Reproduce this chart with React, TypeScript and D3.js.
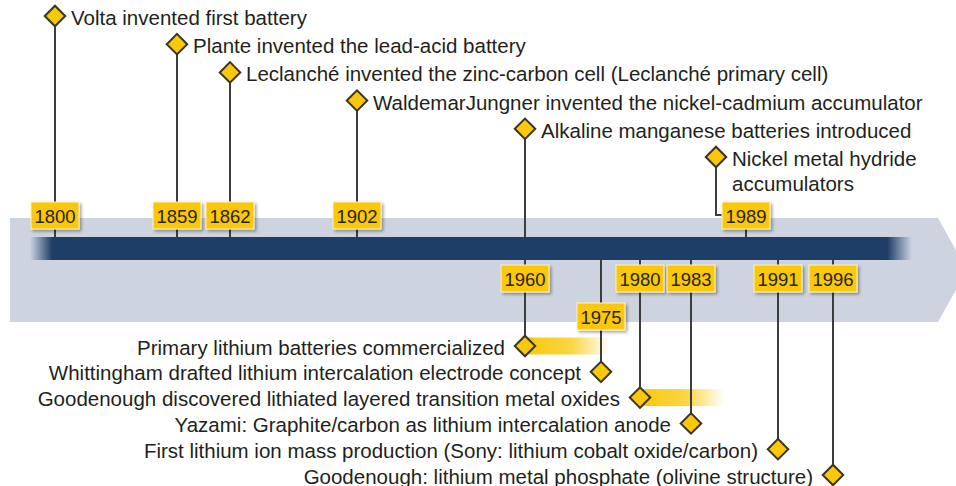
import * as d3 from 'd3';
import { useEffect, useRef } from 'react';

// timeline years (every tick on the bar)
const years = [1800, 1859, 1862, 1902, 1960, 1975, 1980, 1983, 1989, 1991, 1996];

// events above the bar, top row first
const topYears = [1800, 1859, 1862, 1902, 1960, 1989];
const topLabels = [
  ['Volta invented first battery'],
  ['Plante invented the lead-acid battery'],
  ['Leclanché invented the zinc-carbon cell (Leclanché primary cell)'],
  ['WaldemarJungner invented the nickel-cadmium accumulator'],
  ['Alkaline manganese batteries introduced'],
  ['Nickel metal hydride', 'accumulators'],
];

// events below the bar, top row first
const bottomYears = [1960, 1975, 1980, 1983, 1991, 1996];
const bottomLabels = [
  'Primary lithium batteries commercialized',
  'Whittingham drafted lithium intercalation electrode concept',
  'Goodenough discovered lithiated layered transition metal oxides',
  'Yazami: Graphite/carbon as lithium intercalation anode',
  'First lithium ion mass production (Sony: lithium cobalt oxide/carbon)',
  'Goodenough: lithium metal phosphate (olivine structure)',
];

// which year boxes sit above / below the bar
const topBoxYears = [1800, 1859, 1862, 1902, 1989];
const bottomBoxYears = [1960, 1975, 1980, 1983, 1991, 1996];
const loweredBoxYears = [1975];
const highlightedYears = [1960, 1980];
const elbowYear = 1989;

// layout: the timeline is not to scale, so the scale is piecewise
const anchorX = [55, 177, 230, 357, 525, 601, 640, 691, 746, 778, 833];
const FONT = '"Liberation Sans", Arial, sans-serif';
const YELLOW = '#F9C80A';
const LINE = '#3d3d3d';

export default function App() {
  const svgRef = useRef<SVGSVGElement>(null);

  useEffect(() => {
    document.body.style.margin = '0';
    const svg = d3.select(svgRef.current);
    svg.selectAll('*').remove();

    const x = d3.scaleLinear().domain(years).range(anchorX);
    const topRow = d3.scaleLinear().domain([0, 5]).range([16, 157]);
    const botRow = d3.scaleLinear().domain([0, 5]).range([346, 475]);

    const bandTop = 218, bandBottom = 322, barTop = 237, barBottom = 260;
    const boxW = 48, boxH = 27, boxTopY = 202, boxBotY = 265, boxLowY = 303;

    const defs = svg.append('defs');
    const barGrad = defs.append('linearGradient').attr('id', 'barGrad')
      .attr('gradientUnits', 'userSpaceOnUse').attr('x1', 30).attr('x2', 912);
    [[0, 0], [0.025, 1], [0.972, 1], [1, 0]].forEach(([o, a]) =>
      barGrad.append('stop').attr('offset', o).attr('stop-color', '#1F3E67').attr('stop-opacity', a));

    const hlGrad = defs.append('linearGradient').attr('id', 'hlGrad');
    [[0, 1], [0.55, 0.75], [1, 0]].forEach(([o, a]) =>
      hlGrad.append('stop').attr('offset', o).attr('stop-color', YELLOW).attr('stop-opacity', a));

    const shadow = defs.append('filter').attr('id', 'shadow')
      .attr('x', '-20%').attr('y', '-20%').attr('width', '150%').attr('height', '160%');
    shadow.append('feDropShadow').attr('dx', 2).attr('dy', 2).attr('stdDeviation', 1.5)
      .attr('flood-color', '#000').attr('flood-opacity', 0.35);

    // background arrow
    svg.append('path')
      .attr('d', `M10,${bandTop} L938,${bandTop} L967,${(bandTop + bandBottom) / 2} L938,${bandBottom} L10,${bandBottom} Z`)
      .attr('fill', '#CDD4E0');

    // highlight streaks behind bottom diamonds
    bottomYears.forEach((yr, i) => {
      if (!highlightedYears.includes(yr)) return;
      svg.append('rect')
        .attr('x', x(yr)).attr('y', botRow(i) - 8.5)
        .attr('width', 85).attr('height', 17)
        .attr('fill', 'url(#hlGrad)');
    });

    // dark bar
    svg.append('rect').attr('x', 30).attr('y', barTop)
      .attr('width', 882).attr('height', barBottom - barTop)
      .attr('fill', 'url(#barGrad)');

    const lines = svg.append('g').attr('stroke', LINE).attr('stroke-width', 2).attr('fill', 'none');

    // top stems
    topYears.forEach((yr, i) => {
      const cx = x(yr);
      const y0 = topRow(i);
      if (yr === elbowYear) {
        const dx = cx - 30;
        lines.append('path').attr('d', `M${dx},${y0} V${boxTopY + 13} H${cx - boxW / 2}`);
        lines.append('line').attr('x1', cx).attr('x2', cx).attr('y1', boxTopY + boxH).attr('y2', barTop);
      } else {
        lines.append('line').attr('x1', cx).attr('x2', cx).attr('y1', y0).attr('y2', barTop);
      }
    });

    // bottom stems
    bottomYears.forEach((yr, i) => {
      const cx = x(yr);
      lines.append('line').attr('x1', cx).attr('x2', cx).attr('y1', barBottom).attr('y2', botRow(i));
    });

    // year boxes
    const drawBox = (yr: number, top: number) => {
      const cx = x(yr);
      const g = svg.append('g').attr('transform', `translate(${cx - boxW / 2},${top})`);
      g.append('rect').attr('width', boxW).attr('height', boxH)
        .attr('fill', YELLOW).attr('stroke', '#fff3c0').attr('stroke-width', 1)
        .attr('filter', 'url(#shadow)');
      g.append('text').attr('x', boxW / 2).attr('y', boxH / 2 + 1)
        .attr('text-anchor', 'middle').attr('dominant-baseline', 'central')
        .attr('font-family', FONT).attr('font-size', 18.5).attr('fill', '#2a2410')
        .text(yr);
    };
    topBoxYears.forEach((yr) => drawBox(yr, boxTopY));
    bottomBoxYears.forEach((yr) => drawBox(yr, loweredBoxYears.includes(yr) ? boxLowY : boxBotY));

    const diamond = d3.symbol(d3.symbolSquare, 210)();
    const drawDiamond = (cx: number, cy: number) => {
      svg.append('path').attr('d', diamond)
        .attr('transform', `translate(${cx},${cy}) rotate(45)`)
        .attr('fill', YELLOW).attr('stroke', '#3a3522').attr('stroke-width', 2);
    };

    // top labels
    topYears.forEach((yr, i) => {
      const cx = yr === elbowYear ? x(yr) - 30 : x(yr);
      const cy = topRow(i);
      drawDiamond(cx, cy);
      const t = svg.append('text').attr('x', cx + 16).attr('y', cy + 1)
        .attr('dominant-baseline', 'central')
        .attr('font-family', FONT).attr('font-size', 20.5).attr('fill', '#231F20');
      topLabels[i].forEach((s, j) => {
        t.append('tspan').attr('x', cx + 16).attr('dy', j === 0 ? 0 : 25).text(s);
      });
    });

    // bottom labels
    bottomYears.forEach((yr, i) => {
      const cx = x(yr);
      const cy = botRow(i);
      drawDiamond(cx, cy);
      svg.append('text').attr('x', cx - 20).attr('y', cy + 1)
        .attr('text-anchor', 'end').attr('dominant-baseline', 'central')
        .attr('font-family', FONT).attr('font-size', 20.5).attr('fill', '#231F20')
        .text(bottomLabels[i]);
    });
  }, []);

  return <svg ref={svgRef} width={956} height={486} style={{ display: 'block' }} />;
}
